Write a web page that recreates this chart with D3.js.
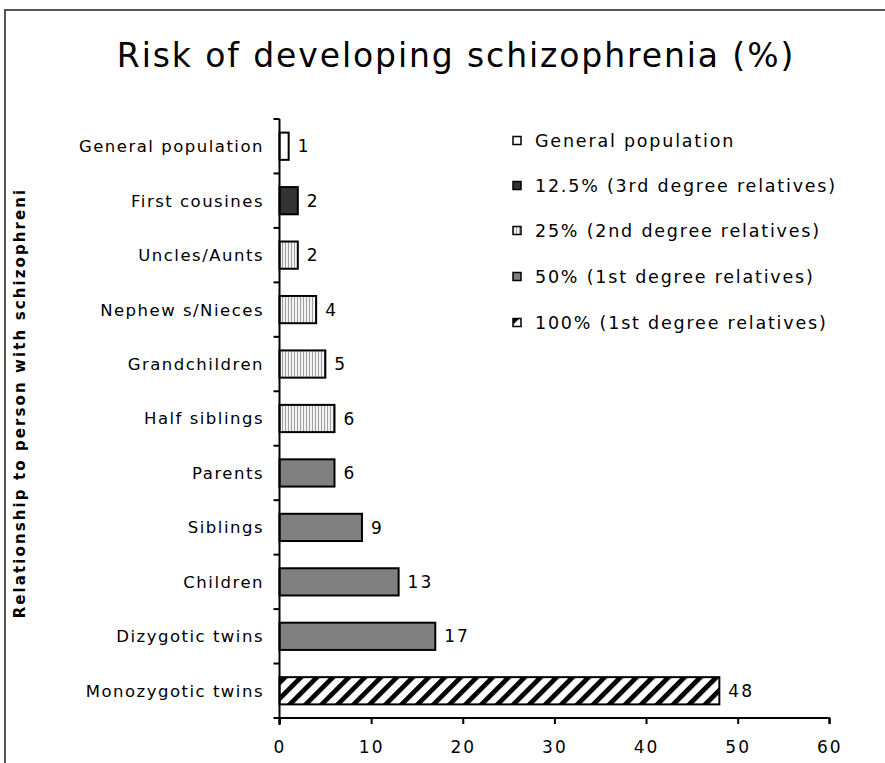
<!DOCTYPE html>
<html>
<head>
<meta charset="utf-8">
<script src="https://cdn.jsdelivr.net/npm/d3@7"></script>
<style>
  html, body { margin: 0; padding: 0; background: #fff; }
  svg { display: block; }
  text { font-family: "DejaVu Sans", Verdana, sans-serif; fill: #000; }
</style>
</head>
<body>
<svg id="chart" width="885" height="763"></svg>
<script>
// ---- Data ----
const categories = [
  "General population", "First cousines", "Uncles/Aunts", "Nephew s/Nieces",
  "Grandchildren", "Half siblings", "Parents", "Siblings", "Children",
  "Dizygotic twins", "Monozygotic twins"
];
const values = [1, 2, 2, 4, 5, 6, 6, 9, 13, 17, 48];
const groups = ["gen", "g125", "g25", "g25", "g25", "g25", "g50", "g50", "g50", "g50", "g100"];
const legendKeys = ["gen", "g125", "g25", "g50", "g100"];
const legendLabels = [
  "General population", "12.5% (3rd degree relatives)", "25% (2nd degree relatives)",
  "50% (1st degree relatives)", "100% (1st degree relatives)"
];
const xTicks = [0, 10, 20, 30, 40, 50, 60];
const title = "Risk of developing schizophrenia (%)";
const yTitle = "Relationship to person with schizophreni";

// ---- Setup ----
const svg = d3.select("#chart");
const defs = svg.append("defs");

// vertical stripes pattern
const pv = defs.append("pattern").attr("id", "pat25").attr("patternUnits", "userSpaceOnUse")
  .attr("width", 3).attr("height", 4);
pv.append("rect").attr("width", 3).attr("height", 4).attr("fill", "#f2f2f2");
pv.append("rect").attr("x", 0).attr("width", 1).attr("height", 4).attr("fill", "#a0a0a0");

// diagonal stripes pattern
const pd = defs.append("pattern").attr("id", "pat100").attr("patternUnits", "userSpaceOnUse")
  .attr("width", 11.3).attr("height", 11.3).attr("patternTransform", "rotate(45)");
pd.append("rect").attr("width", 11.3).attr("height", 11.3).attr("fill", "#fff");
pd.append("rect").attr("x", 0).attr("width", 4.8).attr("height", 11.3).attr("fill", "#000");

const fills = { gen: "#ffffff", g125: "#333333", g25: "url(#pat25)", g50: "#808080", g100: "url(#pat100)" };

// frame
svg.append("rect").attr("x", 5).attr("y", 10).attr("width", 900).attr("height", 800)
  .attr("fill", "none").attr("stroke", "#555").attr("stroke-width", 2);

// title
svg.append("text").attr("x", 456).attr("y", 67).attr("text-anchor", "middle")
  .attr("font-size", 33).attr("letter-spacing", 1.9).text(title);

const x = d3.scaleLinear().domain([0, 60]).range([279.5, 829.3]);
const y = d3.scaleBand().domain(categories).range([119, 718]).paddingInner(0.5).paddingOuter(0.25);

// bars
svg.append("g").selectAll("rect").data(values).join("rect")
  .attr("x", x(0))
  .attr("y", (d, i) => y(categories[i]))
  .attr("width", d => x(d) - x(0))
  .attr("height", y.bandwidth())
  .attr("fill", (d, i) => fills[groups[i]])
  .attr("stroke", "#000").attr("stroke-width", 2);

// value labels
svg.append("g").selectAll("text").data(values).join("text")
  .attr("x", d => x(d) + 9)
  .attr("y", (d, i) => y(categories[i]) + y.bandwidth() / 2)
  .attr("dy", "0.36em").attr("font-size", 17).attr("letter-spacing", 2).text(d => d);

// x axis
const xAxis = svg.append("g").attr("transform", "translate(0,718)")
  .call(d3.axisBottom(x).tickValues(xTicks).tickSize(6).tickPadding(17));
xAxis.select(".domain").attr("stroke", "#000").attr("stroke-width", 2)
  .attr("d", `M${x(0)},6V0H${x(60)}V6`);
xAxis.selectAll(".tick line").attr("stroke", "#000").attr("stroke-width", 2);
xAxis.selectAll(".tick text").attr("font-size", 17).attr("letter-spacing", 2)
  .attr("font-family", "DejaVu Sans").attr("fill", "#000");

// y axis line and ticks at band boundaries
const yAxisG = svg.append("g");
yAxisG.append("line").attr("x1", x(0)).attr("x2", x(0)).attr("y1", 119).attr("y2", 725)
  .attr("stroke", "#000").attr("stroke-width", 2);
const step = y.step();
yAxisG.selectAll(".yt").data(d3.range(categories.length + 1)).join("line")
  .attr("x1", x(0) - 6).attr("x2", x(0))
  .attr("y1", i => y.range()[0] + i * step)
  .attr("y2", i => y.range()[0] + i * step)
  .attr("stroke", "#000").attr("stroke-width", 2);

// category labels
svg.append("g").selectAll("text").data(categories).join("text")
  .attr("x", 264)
  .attr("y", d => y(d) + y.bandwidth() / 2)
  .attr("dy", "0.36em").attr("text-anchor", "end").attr("font-size", 16.5)
  .attr("letter-spacing", 1.5)
  .text(d => d);

// y title
svg.append("text").attr("transform", "translate(25,403) rotate(-90)")
  .attr("text-anchor", "middle").attr("font-size", 15).attr("font-weight", "bold")
  .attr("letter-spacing", 2.1)
  .text(yTitle);

// legend
const lg = svg.append("g");
const legendY = [141, 186, 231, 277, 323];
legendKeys.forEach((k, i) => {
  lg.append("rect").attr("x", 513).attr("y", legendY[i] - 4.5).attr("width", 8).attr("height", 8)
    .attr("fill", fills[k]).attr("stroke", "#000").attr("stroke-width", 1.5);
  lg.append("text").attr("x", 535).attr("y", legendY[i]).attr("dy", "0.36em")
    .attr("font-size", 17.5).attr("letter-spacing", 1.8).text(legendLabels[i]);
});
</script>
</body>
</html>
